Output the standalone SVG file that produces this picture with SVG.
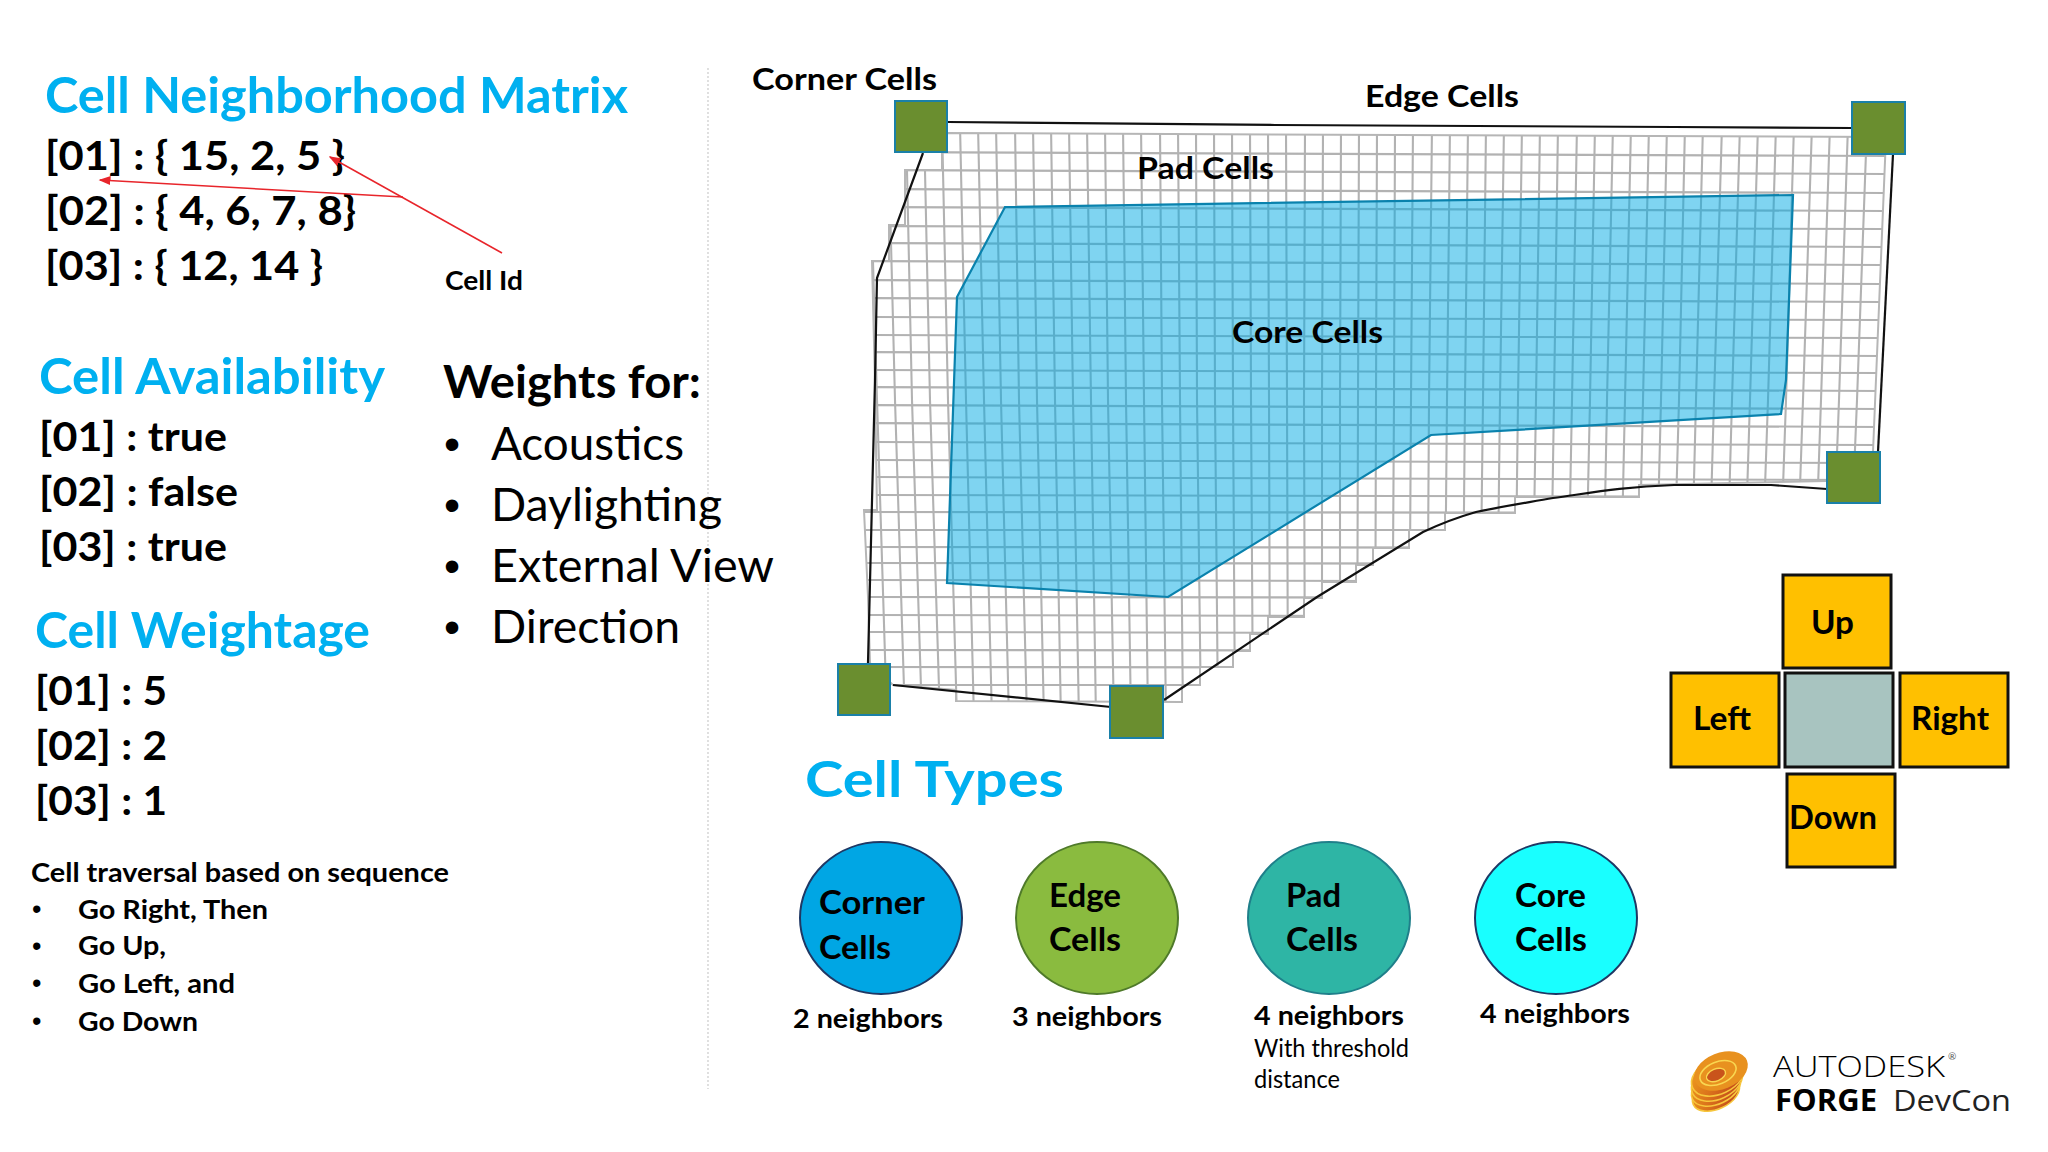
<svg xmlns="http://www.w3.org/2000/svg" width="2048" height="1152" viewBox="0 0 2048 1152">
<style>
text{font-family:"Lato","Liberation Sans",sans-serif;fill:#000;font-weight:700}
.h{fill:#00b0f0;font-size:50px}
.b{font-size:41px}
.r{font-size:46px;font-weight:400}
.l{font-size:31px}
.s{font-size:27px}
.c{font-size:33px}
.u{font-family:"Liberation Sans",sans-serif;font-weight:400}
.corner{fill:#6a8e2f;stroke:#1a80a8;stroke-width:2}
.dir{fill:#ffc000;stroke:#111;stroke-width:3}
.circ{stroke:#1f3864;stroke-width:2}
.red{fill:none;stroke:#e8252b;stroke-width:1.5;marker-end:url(#arr)}
.swirl{fill:url(#sw);stroke:#f7c63c;stroke-width:1.6}
</style>
<defs>
<marker id="arr" markerWidth="8" markerHeight="6" refX="7" refY="3" orient="auto"><path d="M0 0L8 3L0 6z" fill="#e8252b"/></marker>
<linearGradient id="sw" x1="0" y1="0" x2="1" y2="1"><stop offset="0" stop-color="#f2a51f"/><stop offset=".55" stop-color="#d9701b"/><stop offset="1" stop-color="#b8391a"/></linearGradient>
<polygon id="outer" points="942,133 1886,137 1873,452 1873,480 1639,485 1639,497 1515,497 1515,513 1445,513 1445,530 1409,530 1409,548 1373,548 1373,565 1356,565 1356,582 1322,582 1322,598 1304,598 1304,617 1268,617 1268,634 1250,634 1250,651 1233,651 1233,667 1200,667 1200,685 1182,685 1182,702 956,701 956,690 893,685 870,663 868,597 864,510 877,510 875,383 872,261 889,261 889,225 905,225 905,170 942,170"/>
<clipPath id="gc"><use href="#outer"/></clipPath>
</defs>
<rect width="2048" height="1152" fill="#fff"/>

<line x1="708" y1="68" x2="708" y2="1089" stroke="#cfcfcf" stroke-width="1.3" stroke-dasharray="2 2"/>

<g id="neighborhood-matrix">
<text class="h" x="45" y="113" textLength="583" lengthAdjust="spacingAndGlyphs">Cell Neighborhood Matrix</text>
<text class="b" x="45" y="170" textLength="300" lengthAdjust="spacingAndGlyphs">[01] : { 15, 2, 5 }</text>
<text class="b" x="45" y="225" textLength="311" lengthAdjust="spacingAndGlyphs">[02] : { 4, 6, 7, 8}</text>
<text class="b" x="45" y="280" textLength="278" lengthAdjust="spacingAndGlyphs">[03] : { 12, 14 }</text>
<text class="s" x="445" y="290" textLength="78" lengthAdjust="spacingAndGlyphs">Cell Id</text>
</g>

<g id="connectors">
<path class="red" d="M502 253L330 157"/>
<path class="red" d="M403 197L100 180"/>
</g>

<g id="availability">
<text class="h" x="39" y="394" textLength="346" lengthAdjust="spacingAndGlyphs">Cell Availability</text>
<text class="b" x="39" y="451" textLength="188" lengthAdjust="spacingAndGlyphs">[01] : true</text>
<text class="b" x="39" y="506" textLength="199" lengthAdjust="spacingAndGlyphs">[02] : false</text>
<text class="b" x="39" y="561" textLength="188" lengthAdjust="spacingAndGlyphs">[03] : true</text>
</g>

<g id="weights">
<text x="443" y="398" font-size="46" textLength="258" lengthAdjust="spacingAndGlyphs">Weights for:</text>
<text class="r u" x="444" y="460">•</text><text class="r" x="491" y="460" textLength="193" lengthAdjust="spacingAndGlyphs">Acoustics</text>
<text class="r u" x="444" y="521">•</text><text class="r" x="491" y="521" textLength="231" lengthAdjust="spacingAndGlyphs">Daylighting</text>
<text class="r u" x="444" y="582">•</text><text class="r" x="491" y="582" textLength="283" lengthAdjust="spacingAndGlyphs">External View</text>
<text class="r u" x="444" y="643">•</text><text class="r" x="491" y="643" textLength="189" lengthAdjust="spacingAndGlyphs">Direction</text>
</g>

<g id="weightage">
<text class="h" x="35" y="648" textLength="335" lengthAdjust="spacingAndGlyphs">Cell Weightage</text>
<text class="b" x="35" y="705" textLength="132" lengthAdjust="spacingAndGlyphs">[01] : 5</text>
<text class="b" x="35" y="760" textLength="132" lengthAdjust="spacingAndGlyphs">[02] : 2</text>
<text class="b" x="35" y="815" textLength="132" lengthAdjust="spacingAndGlyphs">[03] : 1</text>
</g>

<g id="traversal">
<text class="s" x="31" y="882" textLength="418" lengthAdjust="spacingAndGlyphs">Cell traversal based on sequence</text>
<text class="s u" x="32" y="918">•</text><text class="s" x="78" y="919" textLength="190" lengthAdjust="spacingAndGlyphs">Go Right, Then</text>
<text class="s u" x="32" y="955">•</text><text class="s" x="78" y="955" textLength="88" lengthAdjust="spacingAndGlyphs">Go Up,</text>
<text class="s u" x="32" y="992">•</text><text class="s" x="78" y="993" textLength="157" lengthAdjust="spacingAndGlyphs">Go Left, and</text>
<text class="s u" x="32" y="1030">•</text><text class="s" x="78" y="1031" textLength="120" lengthAdjust="spacingAndGlyphs">Go Down</text>
</g>

<g id="floor-grid">
<g clip-path="url(#gc)">
<path fill="none" stroke="#b2b2b2" stroke-width="2.1" d="M851 125L859 400L870 720M869 125L877 400L887 720M888 125L895 400L905 720M906 125L912 400L922 720M924 125L930 400L940 720M942 125L948 400L957 720M960 125L966 400L974 720M978 125L984 400L992 720M996 125L1001 400L1009 720M1015 125L1019 400L1027 720M1033 125L1037 400L1044 720M1051 125L1055 400L1061 720M1069 125L1073 400L1079 720M1087 125L1091 400L1096 720M1105 125L1108 400L1114 720M1123 125L1126 400L1131 720M1141 125L1144 400L1148 720M1160 125L1162 400L1166 720M1178 125L1180 400L1183 720M1196 125L1197 400L1201 720M1214 125L1215 400L1218 720M1232 125L1233 400L1235 720M1250 125L1251 400L1253 720M1268 125L1269 400L1270 720M1286 125L1287 400L1288 720M1305 125L1304 400L1305 720M1323 125L1322 400L1322 720M1341 125L1340 400L1340 720M1359 125L1358 400L1357 720M1377 125L1376 400L1375 720M1395 125L1394 400L1392 720M1413 125L1411 400L1409 720M1432 125L1429 400L1427 720M1450 125L1447 400L1444 720M1468 125L1465 400L1462 720M1486 125L1483 400L1479 720M1504 125L1500 400L1496 720M1522 125L1518 400L1514 720M1540 125L1536 400L1531 720M1558 125L1554 400L1549 720M1577 125L1572 400L1566 720M1595 125L1590 400L1583 720M1613 125L1607 400L1601 720M1631 125L1625 400L1618 720M1649 125L1643 400L1636 720M1667 125L1661 400L1653 720M1685 125L1679 400L1670 720M1703 125L1696 400L1688 720M1722 125L1714 400L1705 720M1740 125L1732 400L1723 720M1758 125L1750 400L1740 720M1776 125L1768 400L1757 720M1794 125L1786 400L1775 720M1812 125L1803 400L1792 720M1830 125L1821 400L1810 720M1848 125L1839 400L1827 720M1867 125L1857 400L1844 720"/>
<path fill="none" stroke="#b2b2b2" stroke-width="2.1" d="M850 152L1890 156M850 170L1890 174M850 189L1890 193M850 207L1890 211M850 226L1890 229M850 243L1890 247M850 261L1890 265M850 280L1890 284M850 298L1890 302M850 317L1890 320M850 335L1890 338M850 352L1890 356M850 370L1890 373M850 387L1890 391M850 405L1890 409M850 423L1890 427M850 442L1890 445M850 460L1890 463M850 477L1890 480M850 495L1890 497M850 512L1890 513M850 530L1890 530M850 547L1890 548M850 563L1890 564M850 580L1890 582M850 597L1890 598M850 615L1890 617M850 632L1890 634M850 650L1890 651M850 667L1890 668M850 685L1890 685"/>
</g>
<use href="#outer" fill="none" stroke="#b6b6b6" stroke-width="2"/>
<path fill="none" stroke="#111" stroke-width="2.2" d="M948 122L1275 125L1674 127L1852 128"/>
<path fill="none" stroke="#111" stroke-width="2.2" d="M1893 154L1878 452"/>
<path fill="none" stroke="#111" stroke-width="2.2" d="M1827 489L1771 485L1674 485C1620 487 1590 493 1553 498C1525 503 1500 507 1476 512C1455 518 1440 524 1423 532L1317 597L1164 700"/>
<path fill="none" stroke="#111" stroke-width="2.2" d="M893 685L1111 707"/>
<path fill="none" stroke="#111" stroke-width="2.2" d="M868 663L875 380L877 278L923 153"/>
</g>

<g id="core-area">
<polygon points="1005,207 1793,195 1786,380 1781,414 1431,435 1168,597 947,583 957,297" fill="#00a9e3" fill-opacity=".5" stroke="#0a82ad" stroke-width="2.2"/>
</g>

<g id="corner-1"><rect class="corner" x="895" y="101" width="52" height="51"/></g>
<g id="corner-2"><rect class="corner" x="1852" y="102" width="53" height="52"/></g>
<g id="corner-3"><rect class="corner" x="1827" y="452" width="53" height="51"/></g>
<g id="corner-4"><rect class="corner" x="838" y="664" width="52" height="51"/></g>
<g id="corner-5"><rect class="corner" x="1110" y="686" width="53" height="52"/></g>

<g id="grid-labels">
<text class="l" x="752" y="90" textLength="185" lengthAdjust="spacingAndGlyphs">Corner Cells</text>
<text class="l" x="1365" y="107" textLength="154" lengthAdjust="spacingAndGlyphs">Edge Cells</text>
<text class="l" x="1137" y="179" textLength="137" lengthAdjust="spacingAndGlyphs">Pad Cells</text>
<text class="l" x="1232" y="343" textLength="151" lengthAdjust="spacingAndGlyphs">Core Cells</text>
</g>

<g id="cell-types">
<text class="h" x="805" y="797" textLength="259" lengthAdjust="spacingAndGlyphs">Cell Types</text>
</g>
<g id="type-corner">
<ellipse class="circ" cx="881" cy="918" rx="81" ry="76" fill="#00a6e4"/>
<text class="c" x="819" y="914" textLength="106" lengthAdjust="spacingAndGlyphs">Corner</text>
<text class="c" x="819" y="959" textLength="72" lengthAdjust="spacingAndGlyphs">Cells</text>
<text class="s" x="793" y="1028" textLength="150" lengthAdjust="spacingAndGlyphs">2 neighbors</text>
</g>
<g id="type-edge">
<ellipse class="circ" cx="1097" cy="918" rx="81" ry="76" fill="#8abb3f" style="stroke:#4f7a2a"/>
<text class="c" x="1049" y="907" textLength="72" lengthAdjust="spacingAndGlyphs">Edge</text>
<text class="c" x="1049" y="951" textLength="72" lengthAdjust="spacingAndGlyphs">Cells</text>
<text class="s" x="1012" y="1026" textLength="150" lengthAdjust="spacingAndGlyphs">3 neighbors</text>
</g>
<g id="type-pad">
<ellipse class="circ" cx="1329" cy="918" rx="81" ry="76" fill="#2eb5a5" style="stroke:#1f7f8a"/>
<text class="c" x="1286" y="907" textLength="55" lengthAdjust="spacingAndGlyphs">Pad</text>
<text class="c" x="1286" y="951" textLength="72" lengthAdjust="spacingAndGlyphs">Cells</text>
<text class="s" x="1254" y="1025" textLength="150" lengthAdjust="spacingAndGlyphs">4 neighbors</text>
<text class="s" x="1254" y="1057" textLength="155" lengthAdjust="spacingAndGlyphs" style="font-weight:400;font-size:25px">With threshold</text>
<text class="s" x="1254" y="1088" textLength="86" lengthAdjust="spacingAndGlyphs" style="font-weight:400;font-size:25px">distance</text>
</g>
<g id="type-core">
<ellipse class="circ" cx="1556" cy="918" rx="81" ry="76" fill="#19ffff"/>
<text class="c" x="1515" y="907" textLength="71" lengthAdjust="spacingAndGlyphs">Core</text>
<text class="c" x="1515" y="951" textLength="72" lengthAdjust="spacingAndGlyphs">Cells</text>
<text class="s" x="1480" y="1023" textLength="150" lengthAdjust="spacingAndGlyphs">4 neighbors</text>
</g>

<g id="dir-up"><rect class="dir" x="1783" y="575" width="108" height="93"/><text class="c" x="1811" y="634" textLength="43" lengthAdjust="spacingAndGlyphs">Up</text></g>
<g id="dir-left"><rect class="dir" x="1671" y="673" width="108" height="94"/><text class="c" x="1693" y="730" textLength="58" lengthAdjust="spacingAndGlyphs">Left</text></g>
<g id="dir-center"><rect x="1785" y="673" width="108" height="94" fill="#a8c4c0" stroke="#111" stroke-width="3"/></g>
<g id="dir-right"><rect class="dir" x="1900" y="673" width="108" height="94"/><text class="c" x="1911" y="730" textLength="78" lengthAdjust="spacingAndGlyphs">Right</text></g>
<g id="dir-down"><rect class="dir" x="1787" y="774" width="108" height="93"/><text class="c" x="1789" y="829" textLength="88" lengthAdjust="spacingAndGlyphs">Down</text></g>

<g id="logo">
<ellipse class="swirl" cx="1716" cy="1094" rx="25" ry="15" transform="rotate(-25 1716 1094)"/>
<ellipse class="swirl" cx="1716" cy="1088" rx="26" ry="16" transform="rotate(-25 1716 1088)"/>
<ellipse class="swirl" cx="1717" cy="1082" rx="27" ry="17" transform="rotate(-25 1717 1082)"/>
<ellipse class="swirl" cx="1718" cy="1076" rx="28" ry="18" transform="rotate(-25 1718 1076)"/>
<ellipse cx="1721" cy="1071" rx="28" ry="18" fill="#e8911f" transform="rotate(-22 1721 1071)"/>
<ellipse cx="1718" cy="1073" rx="19" ry="11" fill="none" stroke="#f9d650" stroke-width="1.6" transform="rotate(-22 1718 1073)"/>
<ellipse cx="1716" cy="1075" rx="10" ry="6" fill="#c9541b" stroke="#f9d650" stroke-width="1.4" transform="rotate(-22 1716 1075)"/>
<text x="1773" y="1077" font-size="30" style="font-weight:300;font-family:'Open Sans','Noto Sans',sans-serif" textLength="172" lengthAdjust="spacingAndGlyphs">AUTODESK</text>
<text x="1948" y="1060" font-size="10" style="font-weight:400;fill:#555">®</text>
<text x="1775" y="1111" font-size="30" style="font-family:'Open Sans','Noto Sans',sans-serif" textLength="102" lengthAdjust="spacingAndGlyphs">FORGE</text>
<text x="1893" y="1111" font-size="30" style="font-weight:400;font-family:'Open Sans','Noto Sans',sans-serif;fill:#222" textLength="118" lengthAdjust="spacingAndGlyphs">DevCon</text>
</g>
</svg>
